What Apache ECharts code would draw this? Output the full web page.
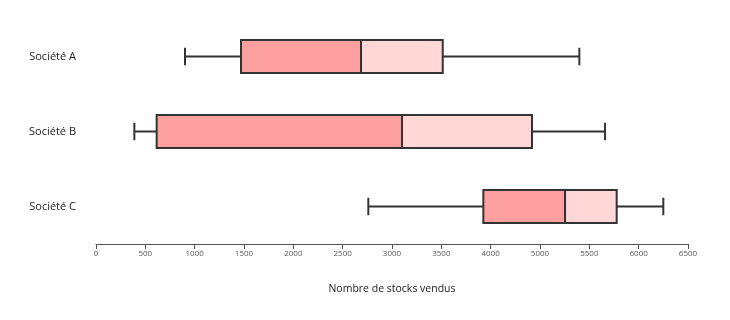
<!DOCTYPE html>
<html>
<head>
<meta charset="utf-8">
<script src="https://cdn.jsdelivr.net/npm/echarts@6/dist/echarts.min.js"></script>
<style>
html,body{margin:0;padding:0;background:#fff;}
#chart{width:730px;height:320px;}
</style>
</head>
<body>
<div id="chart"></div>
<script>
const categories = ['Société A', 'Société B', 'Société C'];
const minValues = [977, 421, 2990];
const q1Values = [1592, 666, 4253];
const medianValues = [2910, 3360, 5150];
const q3Values = [3807, 4787, 5717];
const maxValues = [5307, 5589, 6229];
const tickLabels = ['0', '500', '1000', '1500', '2000', '2500', '3000', '3500', '4000', '5000', '5500', '6000', '6500'];
const axisMax = 6500;

const chart = echarts.init(document.getElementById('chart'), null, {renderer: 'canvas'});
const step = axisMax / (tickLabels.length - 1);
const data = categories.map((c, i) => [minValues[i], q1Values[i], medianValues[i], q3Values[i], maxValues[i], i]);

const stroke = '#333333';
chart.setOption({
  animation: false,
  grid: {left: 96, right: 42, top: 19, bottom: 76},
  xAxis: {
    type: 'value', min: 0, max: axisMax, interval: step,
    splitLine: {show: false},
    axisLine: {show: true, lineStyle: {color: '#555', width: 1}},
    axisTick: {show: true, length: 5, lineStyle: {color: '#555'}},
    axisLabel: {
      fontSize: 8, color: '#555', margin: 6, fontFamily: 'Open Sans',
      formatter: v => tickLabels[Math.round(v / step)] || ''
    },
    name: 'Nombre de stocks vendus', nameLocation: 'middle', nameGap: 40,
    nameTextStyle: {fontSize: 10.5, color: '#1a1a1a', fontFamily: 'Open Sans'}
  },
  yAxis: {
    type: 'category', data: categories, inverse: true,
    axisLine: {show: false}, axisTick: {show: false}, splitLine: {show: false},
    axisLabel: {fontSize: 11, color: '#222', margin: 20, fontFamily: 'Open Sans'}
  },
  series: [{
    type: 'custom',
    data: data,
    encode: {x: [0, 1, 2, 3, 4], y: 5},
    renderItem: function (params, api) {
      const ci = api.value(5);
      const yc = api.coord([0, ci])[1];
      const band = api.size([0, 1])[1];
      const h = band * 0.44;
      const cap = h * 0.53;
      const xs = [0, 1, 2, 3, 4].map(k => api.coord([api.value(k), ci])[0]);
      const top = yc - h / 2;
      const ls = {stroke: stroke, lineWidth: 2};
      return {
        type: 'group',
        children: [
          {type: 'line', shape: {x1: xs[0], y1: yc, x2: xs[1], y2: yc}, style: ls},
          {type: 'line', shape: {x1: xs[3], y1: yc, x2: xs[4], y2: yc}, style: ls},
          {type: 'line', shape: {x1: xs[0], y1: yc - cap / 2, x2: xs[0], y2: yc + cap / 2}, style: ls},
          {type: 'line', shape: {x1: xs[4], y1: yc - cap / 2, x2: xs[4], y2: yc + cap / 2}, style: ls},
          {type: 'rect', shape: {x: xs[1], y: top, width: xs[2] - xs[1], height: h}, style: {fill: '#ffa0a0', stroke: stroke, lineWidth: 2}},
          {type: 'rect', shape: {x: xs[2], y: top, width: xs[3] - xs[2], height: h}, style: {fill: '#ffd7d7', stroke: stroke, lineWidth: 2}}
        ]
      };
    }
  }]
});
</script>
</body>
</html>
